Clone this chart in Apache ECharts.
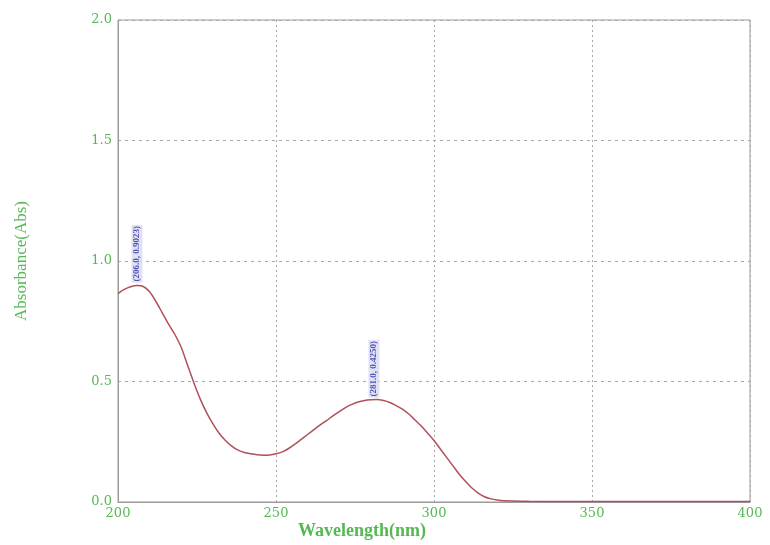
<!DOCTYPE html>
<html><head><meta charset="utf-8">
<script src="https://cdn.jsdelivr.net/npm/echarts@6/dist/echarts.min.js"></script>
<style>html,body{margin:0;padding:0;background:#fff}#c{width:770px;height:545px}</style>
</head><body><div id="c"></div>
<script>
const wavelengths = [200,202,204,206,208,210,212,214,216,218,220,222,224,226,228,230,232,234,236,238,240,242,244,246,248,250,252,254,256,258,260,262,264,266,268,270,272,274,276,278,280,282,284,286,288,290,292,294,296,298,300,302,304,306,308,310,312,314,316,318,320,322,325,330,340,350,360,380,400];
const absorbance = [0.865,0.882,0.893,0.898,0.894,0.872,0.832,0.785,0.738,0.695,0.642,0.568,0.495,0.428,0.372,0.325,0.285,0.255,0.232,0.215,0.205,0.200,0.196,0.194,0.195,0.200,0.208,0.222,0.240,0.260,0.280,0.300,0.320,0.338,0.357,0.375,0.392,0.405,0.415,0.421,0.424,0.425,0.421,0.413,0.400,0.385,0.365,0.340,0.315,0.285,0.255,0.220,0.185,0.150,0.115,0.085,0.058,0.037,0.022,0.013,0.008,0.005,0.004,0.003,0.002,0.002,0.002,0.002,0.002];
const peakX = [206.0, 281.0];
const peakY = [0.9023, 0.4250];
const peakLabels = ['(206.0, 0.9023)', '(281.0, 0.4250)'];
const yTicks = ['0.0','0.5','1.0','1.5','2.0'];

const chart = echarts.init(document.getElementById('c'));
const green = '#55b855';
chart.setOption({
  animation: false,
  grid: {left: 118, right: 20, top: 20, bottom: 43, show: true, borderColor: '#9a9a9a', borderWidth: 1},
  xAxis: {
    type: 'value', min: 200, max: 400, interval: 50,
    axisLine: {show: true, lineStyle: {color: '#9a9a9a'}},
    axisTick: {show: false},
    axisLabel: {color: green, fontFamily: 'DejaVu Serif', fontSize: 13, margin: 5},
    splitLine: {show: true, lineStyle: {color: '#a8a8a8', type: [2, 3]}}
  },
  yAxis: {
    type: 'value', min: 0, max: 2, interval: 0.5,
    name: 'Absorbance(Abs)', nameLocation: 'middle', nameGap: 88,
    nameTextStyle: {color: green, fontFamily: 'Liberation Serif', fontSize: 17},
    axisLine: {show: true, lineStyle: {color: '#9a9a9a'}},
    axisTick: {show: false},
    axisLabel: {color: green, fontFamily: 'DejaVu Serif', fontSize: 13, margin: 6,
      formatter: v => yTicks[Math.round(v / 0.5)]},
    splitLine: {show: true, lineStyle: {color: '#a8a8a8', type: [3, 4]}}
  },
  graphic: [{type: 'text', left: 298, top: 522,
    style: {text: 'Wavelength(nm)', fill: green, font: 'bold 18px "Liberation Serif"'}}],
  series: [
    {type: 'line', data: wavelengths.map((w, i) => [w, absorbance[i]]), smooth: 0.3,
      showSymbol: false, lineStyle: {color: '#b0505a', width: 1.5}},
    {type: 'scatter', symbolSize: 0,
      data: peakX.map((x, i) => ({value: [x, peakY[i]], name: peakLabels[i]})),
      label: {show: true, position: 'top', distance: 2, rotate: 90, align: 'left', verticalAlign: 'middle',
        formatter: p => p.name, color: '#3030a0', fontSize: 9, fontWeight: 'bold', fontFamily: 'Liberation Sans Narrow',
        backgroundColor: '#d8d9f2', padding: [1, 1]}}
  ]
});
</script></body></html>
